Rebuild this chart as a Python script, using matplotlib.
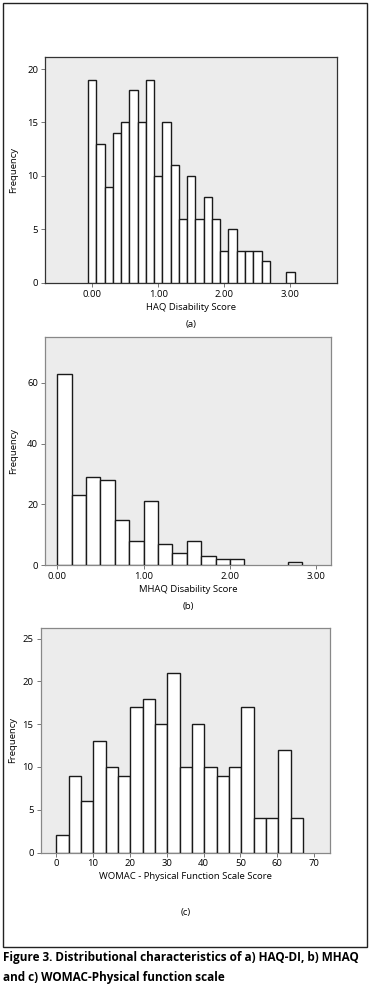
import numpy as np
import matplotlib.pyplot as plt
from matplotlib.patches import Rectangle
from matplotlib.ticker import FormatStrFormatter

plt.rcParams['font.family'] = ['Open Sans', 'DejaVu Sans']

# (a) HAQ-DI, bins of 0.125 centred on the score values
haq_start = -0.0625
haq_width = 0.125
haq_counts = [19, 13, 9, 14, 15, 18, 15, 19, 10, 15, 11, 6, 10, 6, 8, 6,
              3, 5, 3, 3, 3, 2, 0, 0, 1]

# (b) MHAQ, bins of 1/6 starting at 0
mhaq_start = 0.0
mhaq_width = 1 / 6
mhaq_counts = [63, 23, 29, 28, 15, 8, 21, 7, 4, 8, 3, 2, 2, 0, 0, 0, 1]

# (c) WOMAC physical function, 20 bins from 0 to 67
womac_start = 0.0
womac_width = 67 / 20
womac_counts = [2, 9, 6, 13, 10, 9, 17, 18, 15, 21, 10, 15, 10, 9, 10, 17,
                4, 4, 12, 4]

W, H = 371, 990
FS = 6.8
fig = plt.figure(figsize=(W / 100, H / 100), dpi=100)


def box(left, top, right, bottom):
    return [left / W, 1 - bottom / H, (right - left) / W, (bottom - top) / H]


def draw_hist(ax, start, width, counts, xlim, ylim, xticks, yticks, fmt,
              xlabel, spine_color):
    counts = np.asarray(counts)
    left = start + width * np.arange(len(counts))
    keep = counts > 0
    ax.bar(left[keep], counts[keep], width=width, align='edge',
           color='white', edgecolor='#1a1a1a', linewidth=1.0, zorder=3)
    ax.set_facecolor('#ececec')
    ax.set_xlim(*xlim)
    ax.set_ylim(*ylim)
    ax.set_xticks(xticks)
    ax.set_yticks(yticks)
    if fmt:
        ax.xaxis.set_major_formatter(FormatStrFormatter(fmt))
    ax.tick_params(labelsize=FS, length=3, width=0.7, color='#777777', pad=2)
    for s in ax.spines.values():
        s.set_color(spine_color)
        s.set_linewidth(0.9)
    ax.set_ylabel('Frequency', fontsize=FS)
    ax.set_xlabel(xlabel, fontsize=FS)


ax1 = fig.add_axes(box(45.3, 57.3, 336.7, 282.7))
draw_hist(ax1, haq_start, haq_width, haq_counts, (-0.71, 3.70), (0, 21.1),
          [0, 1, 2, 3], [0, 5, 10, 15, 20], '%.2f', 'HAQ Disability Score',
          '#333333')
ax1.yaxis.set_label_coords(-0.094, 0.5)
ax1.xaxis.set_label_coords(0.5, -0.088)

ax2 = fig.add_axes(box(45, 337, 330.7, 565.3))
draw_hist(ax2, mhaq_start, mhaq_width, mhaq_counts, (-0.142, 3.165), (0, 75),
          [0, 1, 2, 3], [0, 20, 40, 60], '%.2f', 'MHAQ Disability Score',
          '#888888')
ax2.yaxis.set_label_coords(-0.095, 0.5)
ax2.xaxis.set_label_coords(0.5, -0.085)

ax3 = fig.add_axes(box(40.5, 627.5, 330, 852.5))
draw_hist(ax3, womac_start, womac_width, womac_counts, (-4.25, 74.3), (0, 26.3),
          list(range(0, 80, 10)), [0, 5, 10, 15, 20, 25], None,
          'WOMAC - Physical Function Scale Score', '#888888')
ax3.yaxis.set_label_coords(-0.08, 0.5)
ax3.xaxis.set_label_coords(0.5, -0.088)

for ax, y, lab in [(ax1, 324, '(a)'), (ax2, 607, '(b)'), (ax3, 913, '(c)')]:
    pos = ax.get_position()
    fig.text(pos.x0 + pos.width / 2, 1 - y / H, lab, fontsize=FS,
             ha='center', va='center')

# frame around the three panels
fig.patches.append(Rectangle((2.7 / W, 1 - 947.3 / H), 364 / W, 944 / H,
                             transform=fig.transFigure, fill=False,
                             edgecolor='#222222', linewidth=1.0))

fig.text(3 / W, 1 - 958 / H,
         'Figure 3. Distributional characteristics of a) HAQ-DI, b) MHAQ',
         fontsize=8.5, fontweight='bold', ha='left', va='center')
fig.text(3 / W, 1 - 977 / H, 'and c) WOMAC-Physical function scale',
         fontsize=8.5, fontweight='bold', ha='left', va='center')

fig.savefig('out.png', dpi=100)
